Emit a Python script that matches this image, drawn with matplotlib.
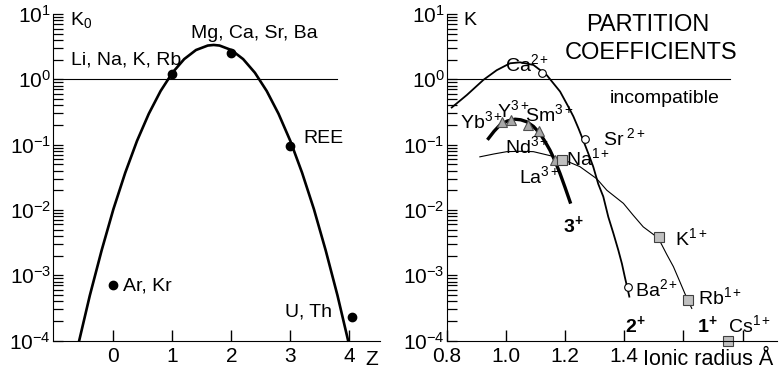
import matplotlib
matplotlib.use("Agg")
import matplotlib.pyplot as plt
from matplotlib.ticker import LogLocator, NullFormatter

plt.rcParams.update({
    "font.family": "Liberation Sans",
    "mathtext.fontset": "custom",
    "mathtext.rm": "Liberation Sans",
    "mathtext.it": "Liberation Sans:italic",
    "mathtext.bf": "Liberation Sans:bold",
    "font.size": 14,
})

# left panel: K0 vs charge Z
z_curve = [-0.58, -0.4, -0.2, 0.0, 0.2, 0.4, 0.6, 0.8, 1.0, 1.2, 1.4, 1.6, 1.7,
           1.8, 2.0, 2.2, 2.4, 2.6, 2.8, 3.0, 3.2, 3.4, 3.6, 3.8, 3.98]
k0_curve = [1.0e-4, 4.9e-4, 2.4e-3, 0.0103, 0.037, 0.114, 0.297, 0.662, 1.26, 2.04,
            2.81, 3.29, 3.36, 3.29, 2.81, 2.04, 1.26, 0.662, 0.297, 0.114, 0.037,
            0.0103, 0.0024, 4.9e-4, 1.0e-4]
z_pts = [0, 1, 2, 3, 4.05]
k0_pts = [7.2e-4, 1.2, 2.5, 0.095, 2.3e-4]
z_ticks = [0, 1, 2, 3, 4]

# right panel: K vs ionic radius
r_2p = [0.817, 0.868, 0.924, 0.969, 1.014, 1.048, 1.093, 1.138, 1.183, 1.211, 1.228,
        1.245, 1.261, 1.278, 1.295, 1.312, 1.329, 1.346, 1.363, 1.38, 1.392, 1.402,
        1.41, 1.417]
k_2p = [0.37, 0.575, 0.98, 1.38, 1.76, 1.82, 1.66, 1.16, 0.65, 0.38, 0.27,
        0.178, 0.117, 0.074, 0.046, 0.025, 0.016, 0.0078, 0.0044, 0.0024, 0.0015,
        0.00093, 0.00065, 0.00047]
r_1p = [0.912, 0.96, 1.003, 1.05, 1.093, 1.16, 1.205, 1.25, 1.307, 1.341, 1.397,
        1.43, 1.464, 1.487, 1.515, 1.543, 1.566, 1.588, 1.605, 1.628]
k_1p = [0.065, 0.072, 0.078, 0.079, 0.078, 0.066, 0.056, 0.046, 0.030, 0.020,
        0.0126, 0.0083, 0.0055, 0.0046, 0.0037, 0.0021, 0.00135, 0.00079, 0.00052,
        0.00031]
r_3p = [0.941, 0.96, 0.98, 1.005, 1.031, 1.05, 1.07, 1.093, 1.115, 1.132, 1.149,
        1.166, 1.183, 1.2, 1.217]
k_3p = [0.124, 0.16, 0.20, 0.23, 0.245, 0.24, 0.224, 0.19, 0.148, 0.112, 0.082,
        0.056, 0.036, 0.022, 0.0132]

r_tri = [0.988, 1.017, 1.073, 1.113, 1.166]      # Yb, Y, Sm, Nd, La
k_tri = [0.224, 0.235, 0.20, 0.163, 0.059]
r_circ = [1.121, 1.267, 1.414]                   # Ca, Sr, Ba
k_circ = [1.24, 0.124, 6.6e-4]
r_sq = [1.188, 1.517, 1.614, 1.751]              # Na, K, Rb, Cs
k_sq = [0.058, 0.0038, 4.1e-4, 1.0e-4]
r_ticks = [0.8, 1.0, 1.2, 1.4, 1.6, 1.8]
r_ticklabels = ["0.8", "1.0", "1.2", "1.4", "", ""]

fig = plt.figure(figsize=(7.8, 3.73), dpi=100)
ax1 = fig.add_axes([0.0683, 0.0871, 0.4188, 0.8753])
ax2 = fig.add_axes([0.5727, 0.0871, 0.4231, 0.8753])

for ax in (ax1, ax2):
    ax.set_yscale("log")
    ax.set_ylim(1e-4, 10)
    ax.spines["top"].set_visible(False)
    ax.spines["right"].set_visible(False)
    ax.yaxis.set_major_locator(LogLocator(base=10, numticks=10))
    ax.yaxis.set_minor_locator(LogLocator(base=10, subs=range(2, 10), numticks=10))
    ax.yaxis.set_minor_formatter(NullFormatter())

# left
ax1.set_xlim(-1.02, 4.52)
ax1.set_xticks(z_ticks)
ax1.axhline(1, xmin=0, xmax=(3.8 + 1.02) / 5.54, color="black", lw=0.8)
ax1.plot(z_curve, k0_curve, color="black", lw=1.9, clip_on=False)
ax1.plot(z_pts, k0_pts, "o", color="black", ms=6, clip_on=False)
ax1.text(-0.73, 8.1, "K$_0$", ha="left", va="center")
ax1.text(-0.72, 1.98, "Li, Na, K, Rb", ha="left", va="center")
ax1.text(1.31, 5.1, "Mg, Ca, Sr, Ba", ha="left", va="center")
ax1.text(3.23, 0.126, "REE", ha="left", va="center")
ax1.text(0.16, 6.8e-4, "Ar, Kr", ha="left", va="center")
ax1.text(2.91, 2.7e-4, "U, Th", ha="left", va="center")

# right
ax2.set_xlim(0.8, 1.915)
ax2.set_xticks(r_ticks)
ax2.set_xticklabels(r_ticklabels)
ax2.axhline(1, xmin=0, xmax=(1.758 - 0.8) / 1.115, color="black", lw=0.8)
ax2.plot(r_2p, k_2p, color="black", lw=1.3)
ax2.plot(r_1p, k_1p, color="black", lw=0.8)
ax2.plot(r_3p, k_3p, color="black", lw=2.4)
ax2.plot(r_tri, k_tri, "^", ms=7, mfc="#a8a8a8", mec="#505050", mew=0.8)
ax2.plot(r_circ, k_circ, "o", ms=5.5, mfc="white", mec="black", mew=0.8)
ax2.plot(r_sq, k_sq, "s", ms=6.5, mfc="#c0c0c0", mec="#404040", mew=0.8, clip_on=False)

# ticks, set after the tick positions are fixed
for ax in (ax1, ax2):
    ax.tick_params(axis="y", which="both", direction="in", length=7, width=0.9,
                   color="black", pad=1.5, labelsize=15)
    ax.tick_params(axis="x", which="major", direction="in", length=8, width=1.0,
                   color="black", pad=5, labelsize=15)

ax2.text(0.855, 8.1, "K", ha="left", va="center")
ax2.text(1.478, 6.8, "PARTITION", ha="center", va="center", fontsize=17)
ax2.text(1.49, 2.53, "COEFFICIENTS", ha="center", va="center", fontsize=17)
ax2.text(1.352, 0.515, "incompatible", ha="left", va="center")
bl = dict(ha="left", va="baseline")
ax2.text(0.997, 1.36, "Ca$^{2+}$", **bl)
ax2.text(1.327, 0.098, "Sr$^{\\ 2+}$", **bl)
ax2.text(0.845, 0.178, "Yb$^{3+}$", **bl)
ax2.text(0.971, 0.267, "Y$^{3+}$", **bl)
ax2.text(1.063, 0.229, "Sm$^{3+}$", **bl)
ax2.text(0.997, 0.073, "Nd$^{3+}$", **bl)
ax2.text(1.203, 0.0485, "Na$^{1+}$", **bl)
ax2.text(1.045, 0.0254, "La$^{3+}$", **bl)
ax2.text(1.194, 0.0046, "$\\mathbf{3}^{\\mathbf{+}}$", **bl)
ax2.text(1.571, 0.0029, "K$^{1+}$", **bl)
ax2.text(1.436, 4.8e-4, "Ba$^{2+}$", **bl)
ax2.text(1.650, 3.6e-4, "Rb$^{1+}$", **bl)
ax2.text(1.402, 1.35e-4, "$\\mathbf{2}^{\\mathbf{+}}$", **bl)
ax2.text(1.645, 1.35e-4, "$\\mathbf{1}^{\\mathbf{+}}$", **bl)
ax2.text(1.749, 1.33e-4, "Cs$^{1+}$", **bl)

fig.text(0.4765, 0.035, "Z", ha="center", va="center", fontsize=15)
fig.text(0.824, 0.035, "Ionic radius Å", ha="left", va="center", fontsize=15.5)

fig.savefig("out.png", dpi=100)
